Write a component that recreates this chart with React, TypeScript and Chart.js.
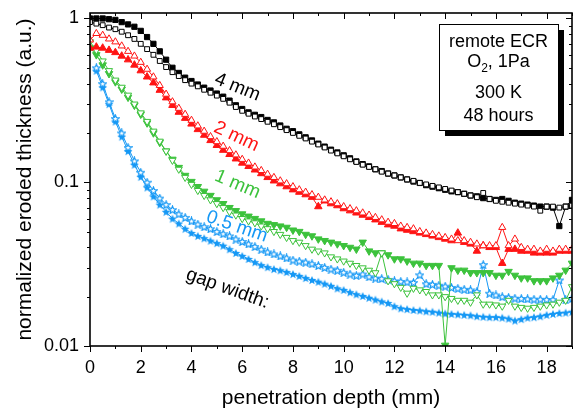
import React, { useEffect, useRef } from 'react';
import { Chart, registerables } from 'chart.js';

Chart.register(...registerables);

const FONT = '"Liberation Sans", Arial, sans-serif';

// penetration depth (mm)
const depth = [
  0, 0.25, 0.5, 0.75, 1, 1.25, 1.5, 1.75, 2, 2.25, 2.5, 2.75, 3, 3.25, 3.5, 3.75,
  4, 4.25, 4.5, 4.75, 5, 5.25, 5.5, 5.75, 6, 6.25, 6.5, 6.75, 7, 7.25, 7.5, 7.75,
  8, 8.25, 8.5, 8.75, 9, 9.25, 9.5, 9.75, 10, 10.25, 10.5, 10.75, 11, 11.25, 11.5, 11.75,
  12, 12.25, 12.5, 12.75, 13, 13.25, 13.5, 13.75, 14, 14.25, 14.5, 14.75, 15, 15.25, 15.5, 15.75,
  16, 16.25, 16.5, 16.75, 17, 17.25, 17.5, 17.75, 18, 18.25, 18.5, 18.75, 19,
];

const gap4Filled = [
  1.0, 1.0, 1.0, 0.99, 0.98, 0.95, 0.92, 0.89, 0.84, 0.77, 0.7, 0.63, 0.56, 0.5, 0.465, 0.435,
  0.415, 0.395, 0.378, 0.363, 0.348, 0.333, 0.315, 0.295, 0.28, 0.267, 0.258, 0.25, 0.24, 0.232, 0.222, 0.212,
  0.205, 0.196, 0.188, 0.18, 0.172, 0.165, 0.158, 0.152, 0.146, 0.14, 0.134, 0.129, 0.125, 0.12, 0.117, 0.113,
  0.11, 0.107, 0.104, 0.101, 0.099, 0.096, 0.094, 0.092, 0.09, 0.088, 0.087, 0.085, 0.083, 0.082, 0.08, 0.079,
  0.078, 0.079, 0.077, 0.075, 0.074, 0.073, 0.072, 0.071, 0.071, 0.07, 0.054, 0.071, 0.078,
];
const gap4Open = [
  0.95, 0.93, 0.91, 0.88, 0.86, 0.83, 0.79, 0.75, 0.7, 0.65, 0.6, 0.55, 0.505, 0.47, 0.445, 0.42,
  0.4, 0.385, 0.367, 0.352, 0.338, 0.323, 0.306, 0.288, 0.273, 0.262, 0.252, 0.243, 0.234, 0.226, 0.217, 0.208,
  0.2, 0.192, 0.185, 0.177, 0.17, 0.163, 0.156, 0.15, 0.144, 0.138, 0.133, 0.128, 0.124, 0.12, 0.116, 0.113,
  0.11, 0.107, 0.104, 0.102, 0.099, 0.097, 0.095, 0.093, 0.091, 0.089, 0.087, 0.085, 0.083, 0.081, 0.086, 0.079,
  0.077, 0.076, 0.075, 0.074, 0.073, 0.072, 0.071, 0.067, 0.071, 0.071, 0.07, 0.071, 0.072,
];
const gap2Filled = [
  0.66, 0.67, 0.66, 0.64, 0.62, 0.59, 0.56, 0.52, 0.48, 0.44, 0.405, 0.365, 0.328, 0.295, 0.268, 0.246,
  0.227, 0.21, 0.194, 0.18, 0.168, 0.157, 0.148, 0.139, 0.131, 0.125, 0.119, 0.113, 0.107, 0.102, 0.098, 0.094,
  0.09, 0.087, 0.084, 0.081, 0.071, 0.077, 0.074, 0.072, 0.069, 0.067, 0.065, 0.063, 0.061, 0.059, 0.057, 0.055,
  0.054, 0.052, 0.051, 0.05, 0.049, 0.048, 0.047, 0.046, 0.045, 0.044, 0.049, 0.043, 0.042, 0.038, 0.041, 0.04,
  0.04, 0.032, 0.039, 0.039, 0.038, 0.038, 0.037, 0.037, 0.037, 0.037, 0.038, 0.038, 0.038,
];
const gap2Open = [
  0.74, 0.81, 0.79, 0.75, 0.72, 0.68, 0.63, 0.59, 0.54, 0.49, 0.44, 0.39, 0.345, 0.31, 0.283, 0.26,
  0.239, 0.221, 0.205, 0.19, 0.177, 0.166, 0.156, 0.147, 0.138, 0.131, 0.124, 0.118, 0.112, 0.107, 0.102, 0.098,
  0.094, 0.09, 0.087, 0.084, 0.081, 0.078, 0.076, 0.074, 0.071, 0.069, 0.067, 0.065, 0.063, 0.061, 0.059, 0.057,
  0.056, 0.054, 0.053, 0.052, 0.05, 0.049, 0.048, 0.047, 0.046, 0.045, 0.044, 0.044, 0.043, 0.042, 0.041, 0.041,
  0.041, 0.053, 0.041, 0.045, 0.04, 0.039, 0.039, 0.038, 0.039, 0.038, 0.039, 0.039, 0.039,
];
const gap1Filled = [
  0.66, 0.6, 0.52, 0.46, 0.41, 0.37, 0.33, 0.295, 0.26, 0.23, 0.2, 0.175, 0.155, 0.138, 0.123, 0.11,
  0.101, 0.094, 0.088, 0.083, 0.078, 0.074, 0.07, 0.067, 0.064, 0.062, 0.06, 0.058, 0.056, 0.055, 0.054, 0.053,
  0.051, 0.05, 0.048, 0.047, 0.045, 0.044, 0.043, 0.042, 0.041, 0.04, 0.039, 0.043, 0.038, 0.037, 0.037, 0.036,
  0.034, 0.034, 0.033, 0.032, 0.032, 0.031, 0.031, 0.031, 0.0101, 0.03, 0.029, 0.029, 0.028, 0.028, 0.028, 0.028,
  0.027, 0.027, 0.0285, 0.027, 0.026, 0.026, 0.025, 0.025, 0.025, 0.026, 0.027, 0.029, 0.032,
];
const gap1Open = [
  0.72, 0.64, 0.55, 0.48, 0.42, 0.38, 0.34, 0.3, 0.265, 0.235, 0.205, 0.178, 0.155, 0.136, 0.12, 0.107,
  0.097, 0.089, 0.083, 0.078, 0.074, 0.07, 0.066, 0.063, 0.06, 0.058, 0.0565, 0.054, 0.052, 0.05, 0.048, 0.046,
  0.044, 0.043, 0.041, 0.039, 0.038, 0.037, 0.035, 0.034, 0.033, 0.032, 0.031, 0.03, 0.029, 0.028, 0.037, 0.025,
  0.024, 0.0228, 0.021, 0.0225, 0.022, 0.0215, 0.0205, 0.0205, 0.02, 0.0195, 0.019, 0.019, 0.0185, 0.0205, 0.018, 0.018,
  0.0178, 0.0175, 0.019, 0.0175, 0.0172, 0.017, 0.0172, 0.0175, 0.0178, 0.018, 0.0185, 0.019, 0.023,
];
const gap05Filled = [
  null, 0.48, 0.38, 0.3, 0.235, 0.19, 0.155, 0.128, 0.108, 0.093, 0.082, 0.073, 0.066, 0.06, 0.056, 0.052,
  0.049, 0.047, 0.0455, 0.044, 0.0425, 0.041, 0.039, 0.037, 0.0355, 0.034, 0.0325, 0.0312, 0.0303, 0.0295, 0.029, 0.0283,
  0.0275, 0.0268, 0.026, 0.0253, 0.0247, 0.024, 0.0233, 0.0225, 0.022, 0.0213, 0.0207, 0.0202, 0.0197, 0.0192, 0.0187, 0.0183,
  0.0175, 0.017, 0.0168, 0.0166, 0.0165, 0.0163, 0.0162, 0.016, 0.0158, 0.0157, 0.0156, 0.0155, 0.0154, 0.0152, 0.0151, 0.015,
  0.015, 0.0149, 0.0147, 0.0143, 0.0146, 0.0149, 0.015, 0.0152, 0.0155, 0.0157, 0.0159, 0.016, 0.0162,
];
const gap05Open = [
  null, 0.5, 0.4, 0.31, 0.245, 0.2, 0.163, 0.135, 0.115, 0.1, 0.089, 0.08, 0.073, 0.068, 0.064, 0.061,
  0.058, 0.0555, 0.0535, 0.052, 0.05, 0.0485, 0.047, 0.045, 0.0435, 0.042, 0.0405, 0.039, 0.0375, 0.0365, 0.0355, 0.0345,
  0.0335, 0.033, 0.0325, 0.0318, 0.031, 0.0302, 0.0295, 0.029, 0.0282, 0.0275, 0.027, 0.0275, 0.0265, 0.026, 0.0258, 0.0255,
  0.025, 0.0248, 0.0246, 0.0244, 0.0272, 0.024, 0.0238, 0.0235, 0.0232, 0.0228, 0.0225, 0.0222, 0.022, 0.0215, 0.0314, 0.021,
  0.0205, 0.02, 0.0198, 0.0196, 0.0195, 0.0194, 0.0193, 0.0193, 0.0192, 0.0192, 0.0253, 0.0192, 0.0195,
];

const xTickValues = [0, 2, 4, 6, 8, 10, 12, 14, 16, 18];
const yTickValues = [0.01, 0.1, 1];
const yTickLabels = ['0.01', '0.1', '1'];

const BLACK = '#000000';
const RED = '#ff1414';
const GREEN = '#3cc23c';
const BLUE = '#1598f5';

// curve labels: text, colour, anchor in data coordinates, rotation (deg)
const curveLabels = [
  { text: '4 mm', color: BLACK, x: 5.81, y: 0.38, rot: 22 },
  { text: '2 mm', color: RED, x: 5.77, y: 0.19, rot: 25 },
  { text: '1 mm', color: GREEN, x: 5.81, y: 0.097, rot: 23 },
  { text: '0.5 mm', color: BLUE, x: 5.79, y: 0.0535, rot: 19 },
  { text: 'gap width:', color: BLACK, x: 5.42, y: 0.0224, rot: 20 },
];

function makeStar(size: number, color: string, filled: boolean) {
  const c = document.createElement('canvas');
  c.width = size;
  c.height = size;
  const g = c.getContext('2d')!;
  const cx = size / 2, cy = size / 2 + 0.5;
  const R = size / 2 - 0.5, r = R * 0.45;
  g.beginPath();
  for (let i = 0; i < 10; i++) {
    const a = -Math.PI / 2 + (i * Math.PI) / 5;
    const rad = i % 2 === 0 ? R : r;
    g.lineTo(cx + rad * Math.cos(a), cy + rad * Math.sin(a));
  }
  g.closePath();
  if (filled) {
    g.fillStyle = color;
    g.fill();
  } else {
    g.fillStyle = '#ffffff';
    g.fill();
    g.strokeStyle = color;
    g.lineWidth = 1.2;
    g.stroke();
  }
  return c;
}

const framePlugin = {
  id: 'frameAndNotes',
  afterDraw(chart: any) {
    const ctx = chart.ctx as CanvasRenderingContext2D;
    const { left, right, top, bottom } = chart.chartArea;
    const xs = chart.scales.x, ys = chart.scales.y;
    ctx.save();
    ctx.strokeStyle = '#000';
    ctx.lineWidth = 1;
    for (let v = 0; v <= 19; v++) {
      const px = Math.round(xs.getPixelForValue(v)) + 0.5;
      const len = v % 2 === 0 ? 6 : 3;
      ctx.beginPath();
      ctx.moveTo(px, bottom);
      ctx.lineTo(px, bottom + len);
      ctx.moveTo(px, top);
      ctx.lineTo(px, top + len);
      ctx.stroke();
    }
    for (const dec of [0.01, 0.1, 1]) {
      for (let m = 1; m <= 9; m++) {
        const v = dec * m;
        if (v > 1.08 + 1e-9) continue;
        const py = Math.round(ys.getPixelForValue(v)) + 0.5;
        const len = m === 1 ? 6 : 3;
        ctx.beginPath();
        ctx.moveTo(left - len, py);
        ctx.lineTo(left, py);
        ctx.moveTo(right - len, py);
        ctx.lineTo(right, py);
        ctx.stroke();
      }
    }
    ctx.lineWidth = 1.6;
    ctx.strokeRect(left, top, right - left, bottom - top);

    ctx.font = `19px ${FONT}`;
    ctx.textAlign = 'center';
    ctx.textBaseline = 'middle';
    for (const l of curveLabels) {
      ctx.save();
      ctx.translate(xs.getPixelForValue(l.x), ys.getPixelForValue(l.y));
      ctx.rotate((l.rot * Math.PI) / 180);
      ctx.fillStyle = l.color;
      ctx.fillText(l.text, 0, 0);
      ctx.restore();
    }

    const bx = 439, by = 24, bw = 119, bh = 106;
    ctx.fillStyle = '#000';
    ctx.fillRect(bx + 6, by + 6, bw, bh);
    ctx.fillStyle = '#fff';
    ctx.fillRect(bx, by, bw, bh);
    ctx.lineWidth = 1;
    ctx.strokeStyle = '#000';
    ctx.strokeRect(bx + 0.5, by + 0.5, bw, bh);
    ctx.fillStyle = '#000';
    ctx.textAlign = 'center';
    ctx.textBaseline = 'alphabetic';
    const cx = bx + bw / 2;
    ctx.font = `18px ${FONT}`;
    ctx.fillText('remote ECR', cx, 47);
    ctx.fillText('300 K', cx, 98);
    ctx.fillText('48 hours', cx, 121);
    const p1 = 'O', p3 = ', 1Pa';
    ctx.font = `18px ${FONT}`;
    const w1 = ctx.measureText(p1).width;
    const w3 = ctx.measureText(p3).width;
    ctx.font = `12px ${FONT}`;
    const w2 = ctx.measureText('2').width;
    const total = w1 + w2 + w3;
    let sx = cx - total / 2;
    ctx.textAlign = 'left';
    ctx.font = `18px ${FONT}`;
    ctx.fillText(p1, sx, 67);
    sx += w1;
    ctx.font = `12px ${FONT}`;
    ctx.fillText('2', sx, 72);
    sx += w2;
    ctx.font = `18px ${FONT}`;
    ctx.fillText(p3, sx, 67);
    ctx.restore();
  },
};

export default function App() {
  const ref = useRef<HTMLCanvasElement>(null);

  useEffect(() => {
    const canvas = ref.current!;
    const starFilled = makeStar(10, BLUE, true);
    const starOpen = makeStar(9, BLUE, false);

    const toPts = (vals: (number | null)[]) => depth.map((x, i) => ({ x, y: vals[i] }));

    const mk = (label: string, vals: (number | null)[], color: string, style: any, radius: number, fill: string, rotation = 0) => ({
      label,
      data: toPts(vals),
      borderColor: color,
      backgroundColor: color,
      borderWidth: 1,
      pointStyle: style,
      pointRadius: radius,
      pointBackgroundColor: fill,
      pointBorderColor: color,
      pointBorderWidth: 1,
      pointRotation: rotation,
      tension: 0,
      spanGaps: false,
      fill: false,
    });

    const chart = new Chart(canvas, {
      type: 'line',
      data: {
        datasets: [
          mk('4 mm open', gap4Open, BLACK, 'rect', 3.4, '#ffffff'),
          mk('4 mm filled', gap4Filled, BLACK, 'rect', 3.7, BLACK),
          mk('2 mm open', gap2Open, RED, 'triangle', 4.1, '#ffffff'),
          mk('2 mm filled', gap2Filled, RED, 'triangle', 4.3, RED),
          mk('1 mm open', gap1Open, GREEN, 'triangle', 4.1, '#ffffff', 180),
          mk('1 mm filled', gap1Filled, GREEN, 'triangle', 4.3, GREEN, 180),
          mk('0.5 mm open', gap05Open, BLUE, starOpen, 4.5, '#ffffff'),
          mk('0.5 mm filled', gap05Filled, BLUE, starFilled, 5, BLUE),
        ] as any,
      },
      options: {
        responsive: false,
        animation: false,
        devicePixelRatio: 1,
        layout: { padding: { left: 0, right: 9, top: 13, bottom: 0 } },
        plugins: { legend: { display: false }, tooltip: { enabled: false } },
        events: [],
        scales: {
          x: {
            type: 'linear',
            min: 0,
            max: 19,
            grid: { display: false, drawTicks: false },
            border: { display: false },
            afterBuildTicks: (s: any) => {
              s.ticks = xTickValues.map((v) => ({ value: v }));
            },
            ticks: {
              autoSkip: false,
              maxRotation: 0,
              minRotation: 0,
              padding: 11,
              color: '#000',
              font: { family: FONT, size: 18 },
              callback: (v: any) => String(v),
            },
            title: {
              display: true,
              text: 'penetration depth (mm)',
              color: '#000',
              font: { family: FONT, size: 21 },
              padding: { top: 0, bottom: 6 },
            },
            afterFit: (s: any) => {
              s.height = 71;
              s.paddingLeft = 0;
              s.paddingRight = 0;
            },
          },
          y: {
            type: 'logarithmic',
            min: 0.01,
            max: 1.08,
            grid: { display: false, drawTicks: false },
            border: { display: false },
            afterBuildTicks: (s: any) => {
              s.ticks = yTickValues.map((v) => ({ value: v }));
            },
            ticks: {
              autoSkip: false,
              padding: 11,
              color: '#000',
              font: { family: FONT, size: 18 },
              callback: (v: any) => {
                const i = yTickValues.findIndex((t) => Math.abs(t - v) < 1e-9);
                return i >= 0 ? yTickLabels[i] : '';
              },
            },
            title: {
              display: true,
              text: 'normalized eroded thickness (a.u.)',
              color: '#000',
              font: { family: FONT, size: 21 },
              padding: { top: 13, bottom: 0 },
            },
            afterFit: (s: any) => {
              s.width = 90;
              s.paddingTop = 0;
              s.paddingBottom = 0;
            },
          },
        },
      } as any,
      plugins: [framePlugin],
    });
    return () => chart.destroy();
  }, []);

  return (
    <div style={{ position: 'fixed', left: 0, top: 0, width: 581, height: 417, background: '#fff' }}>
      <canvas ref={ref} width={581} height={417} style={{ display: 'block' }} />
    </div>
  );
}
